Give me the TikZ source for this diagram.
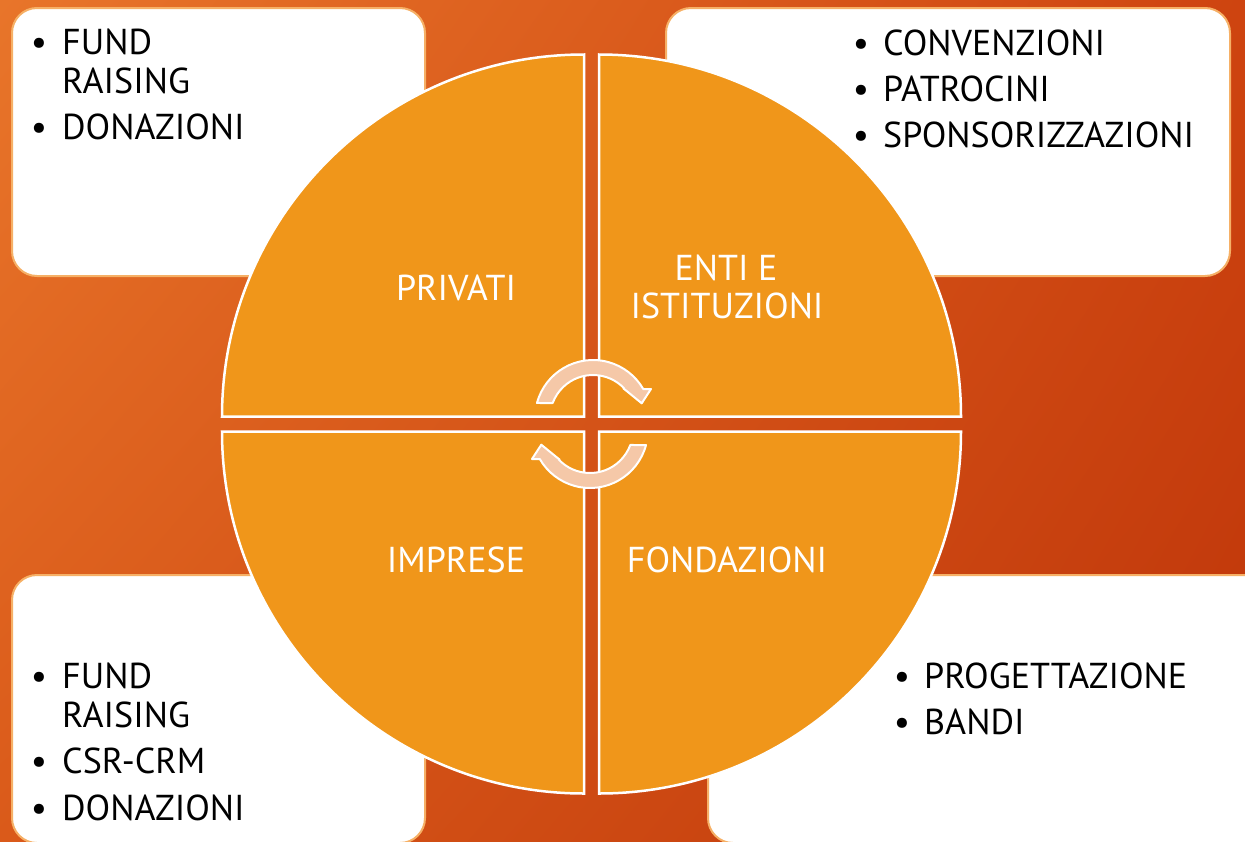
\documentclass[tikz,border=0pt]{standalone}
\usepackage{fontspec}
\setmainfont{PT Sans}
\usetikzlibrary{shadings}
\definecolor{bgA}{HTML}{E8752A}
\definecolor{bgB}{HTML}{CE4410}
\definecolor{bgC}{HTML}{DA5A1A}
\definecolor{bgD}{HTML}{BE360A}
\definecolor{quadfill}{HTML}{F0961A}
\definecolor{boxedge}{HTML}{F6B066}
\definecolor{arrowfill}{HTML}{F5C8A8}
\begin{document}
\begin{tikzpicture}[x=1pt,y=-1pt,
  box/.style={fill=white, draw=boxedge, line width=2pt, rounded corners=25pt},
  quad/.style={fill=quadfill, draw=white, line width=2.5pt},
  item/.style={anchor=base west, inner sep=0pt, font=\fontsize{36}{40}\selectfont},
  bul/.style={anchor=base, inner sep=0pt, font=\fontsize{36}{40}\selectfont},
  lab/.style={anchor=base, inner sep=0pt, text=white, font=\fontsize{36}{40}\selectfont},
  cycarrow/.pic={
    \begin{scope}[yscale=-1]
    \filldraw[fill=arrowfill, draw=white, line width=2pt, line join=round]
      (165:58) arc[start angle=165, end angle=30, radius=58]
      -- (58,29) -- (48.7,14.7) -- (30.3,29.7)
      -- (43.3:43) arc[start angle=43.3, end angle=159.6, radius=43] -- cycle;
    \end{scope}
  }]
\useasboundingbox (0,0) rectangle (1245,841);
\shade[upper left=bgA, upper right=bgB, lower left=bgC, lower right=bgD] (0,0) rectangle (1245,841);
% boxes
\draw[box] (12,8) rectangle (425,276);
\draw[box] (666,8) rectangle (1230,276);
\draw[box] (12,575) rectangle (425,843);
\draw[box] (708,575) rectangle (1275,843);
% quadrants
\filldraw[quad] (584,416.5) -- (222,416.5) arc[start angle=180, end angle=270, radius=362] -- cycle;
\filldraw[quad] (599,416.5) -- (599,54.5) arc[start angle=270, end angle=360, radius=362] -- cycle;
\filldraw[quad] (599,431.5) -- (961,431.5) arc[start angle=0, end angle=90, radius=362] -- cycle;
\filldraw[quad] (584,431.5) -- (584,793.5) arc[start angle=90, end angle=180, radius=362] -- cycle;
% arrows
\pic at (593,418) {cycarrow};
\pic[rotate=180] at (590,430) {cycarrow};
% quadrant labels
\node[lab] (privati) at (456,300) {PRIVATI};
\node[lab] (enti1) at (726,280) {ENTI E};
\node[lab] (enti2) at (727,318) {ISTITUZIONI};
\node[lab] (imprese) at (456,572) {IMPRESE};
\node[lab] (fondazioni) at (727,572) {FONDAZIONI};
% top-left list
\node[bul] (b1) at (39,54) {•};
\node[item] (t1) at (62,54) {FUND};
\node[item] (t2) at (62,93) {RAISING};
\node[bul] (b2) at (39,139) {•};
\node[item] (t3) at (62,139) {DONAZIONI};
% top-right list
\node[bul] (b3) at (861,55) {•};
\node[item] (t4) at (883,55) {CONVENZIONI};
\node[bul] (b4) at (861,101) {•};
\node[item] (t5) at (883,101) {PATROCINI};
\node[bul] (b5) at (861,147) {•};
\node[item] (t6) at (883,147) {SPONSORIZZAZIONI};
% bottom-left list
\node[bul] (b6) at (39,688) {•};
\node[item] (t7) at (62,688) {FUND};
\node[item] (t8) at (62,727) {RAISING};
\node[bul] (b7) at (39,773) {•};
\node[item] (t9) at (62,773) {CSR-CRM};
\node[bul] (b8) at (39,820) {•};
\node[item] (t10) at (62,820) {DONAZIONI};
% bottom-right list
\node[bul] (b9) at (902,688) {•};
\node[item] (t11) at (924,688) {PROGETTAZIONE};
\node[bul] (b10) at (902,734) {•};
\node[item] (t12) at (924,734) {BANDI};
\end{tikzpicture}
\end{document}
